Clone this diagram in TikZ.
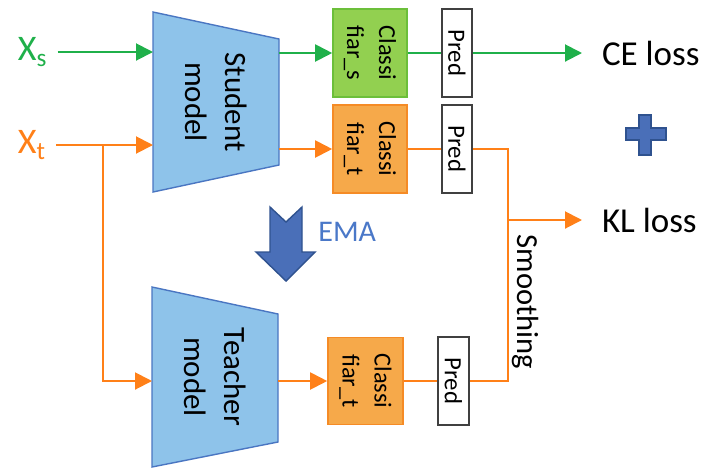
\documentclass[tikz,border=0pt]{standalone}
\usepackage{fontspec}
\setmainfont{Carlito}
\usepackage{xcolor}
\usetikzlibrary{arrows.meta}
\definecolor{gline}{HTML}{1FB04A}
\definecolor{oline}{HTML}{FF8018}
\definecolor{gfill}{HTML}{92D050}
\definecolor{gdraw}{HTML}{6CBF3A}
\definecolor{ofill}{HTML}{F6A94A}
\definecolor{odraw}{HTML}{F58B26}
\definecolor{modelfill}{HTML}{8EC3EA}
\definecolor{modeldraw}{HTML}{4A76C2}
\definecolor{emafill}{HTML}{4A6FB8}
\definecolor{emadraw}{HTML}{2F528F}
\definecolor{ematext}{HTML}{4A78C8}

\begin{document}
\begin{tikzpicture}[x=0.5pt,y=-0.5pt,
      model/.style={draw=modeldraw,fill=modelfill,line width=0.7pt},
      mtext/.style={rotate=-90,align=center,inner sep=0pt,font=\fontsize{15.5}{20}\selectfont},
      clsbox/.style={rotate=-90,minimum width=44pt,minimum height=37pt,inner sep=0pt,align=center,line width=0.8pt,font=\fontsize{12.2}{16}\selectfont},
      predbox/.style={draw=black!75,fill=white,rotate=-90,minimum width=44pt,minimum height=15pt,inner sep=0pt,line width=0.8pt,font=\fontsize{12.4}{15}\selectfont},
      xin/.style={inner sep=0pt,outer xsep=5pt,anchor=west,font=\fontsize{18}{20}\selectfont},
      loss/.style={inner sep=0pt,outer xsep=10pt,anchor=west,font=\fontsize{17.5}{20}\selectfont},
      garr/.style={draw=gline,line width=1pt,-{Triangle[length=8.5pt,width=8.5pt]}},
      oarr/.style={draw=oline,line width=1pt,-{Triangle[length=8.5pt,width=8.5pt]}},
      gline/.style={draw=gline,line width=1pt},
      oline/.style={draw=oline,line width=1pt},
      block/.style={draw=emadraw,fill=emafill,line width=0.7pt,line join=miter}]
    \useasboundingbox (0,0) rectangle (703,468);
    % inputs
    \node[xin,text=gline] (xs) at (8,52) {X\textsubscript{s}};
    \node[xin,text=oline] (xt) at (8,145) {X\textsubscript{t}};
    % student model
    \draw[model] (153,12) -- (279,39) -- (279,165) -- (153,192) -- cycle;
    \node[mtext] (student) at (216,102) {Student\\model};
    \coordinate (sins) at (153,52);
    \coordinate (sint) at (153,145);
    \coordinate (souts) at (279,53);
    \coordinate (soutt) at (279,149);
    % teacher model
    \draw[model] (152,287) -- (278,314) -- (278,442) -- (152,467) -- cycle;
    \node[mtext] (teacher) at (215,377) {Teacher\\model};
    \coordinate (tin) at (152,381);
    \coordinate (tout) at (278,381);
    % classifiers and predictions
    \node[clsbox,draw=gdraw,fill=gfill] (clss) at (370,53) {Classi\\fiar\_s};
    \node[clsbox,draw=odraw,fill=ofill] (clst) at (370,149) {Classi\\fiar\_t};
    \node[clsbox,draw=odraw,fill=ofill,minimum width=43.5pt,minimum height=37.5pt] (clsT) at (365.5,381) {Classi\\fiar\_t};
    \node[predbox] (preds) at (457,53) {Pred};
    \node[predbox] (predt) at (457,149) {Pred};
    \node[predbox,minimum height=15.5pt] (predT) at (453.5,381) {Pred};
    % losses
    \node[loss] (ce) at (582,53) {CE loss};
    \node[loss] (kl) at (582,220) {KL loss};
    \coordinate (klj) at (508,220);
    \coordinate (smc) at (508,381);
    \node[rotate=-90,inner sep=0pt,font=\fontsize{15.3}{18}\selectfont] (smooth) at (525,302) {Smoothing};
    % green path
    \draw[garr] (xs.east) -- (sins);
    \draw[garr] (souts) -- (clss);
    \draw[gline] (clss) -- (preds);
    \draw[garr] (preds) -- (ce.west);
    % orange paths
    \draw[oarr] (xt.east) -- (sint);
    \coordinate (xj) at (103,145);
    \draw[oarr] (xj) |- (tin);
    \draw[oarr] (soutt) -- (clst);
    \draw[oline] (clst) -- (predt);
    \draw[oarr] (tout) -- (clsT);
    \draw[oline] (clsT) -- (predT);
    \draw[oline] (predt) -| (smc) -- (predT);
    \draw[oarr] (klj) -- (kl.west);
    % EMA arrow
    \draw[block] (270,207) -- (286,222) -- (302,207) -- (302,252) -- (315,252)
      -- (286,281) -- (256,252) -- (270,252) -- cycle;
    \node[inner sep=0pt,anchor=west,text=ematext,font=\fontsize{15}{18}\selectfont] (ema) at (318,232) {EMA};
    % plus
    \draw[block] (639,115) -- (651,115) -- (651,128) -- (666,128) -- (666,140) -- (651,140)
      -- (651,155) -- (639,155) -- (639,140) -- (626,140) -- (626,128) -- (639,128) -- cycle;
  \end{tikzpicture}
\end{document}
